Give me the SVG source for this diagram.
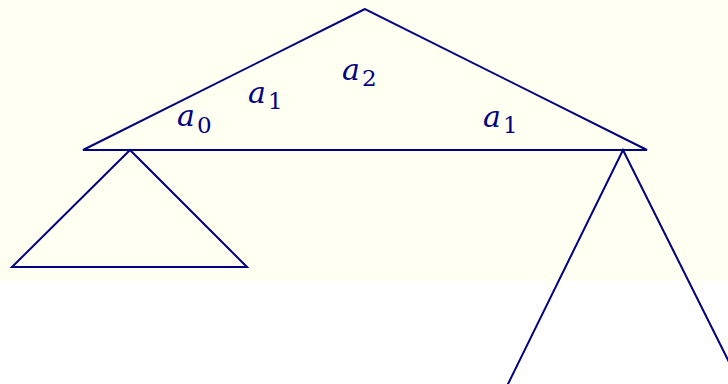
<svg xmlns="http://www.w3.org/2000/svg" width="728" height="384" viewBox="0 0 728 384">
<style>
.ln{fill:none;stroke:#000080;stroke-width:2;stroke-linejoin:miter}
</style>
<rect x="0" y="0" width="728" height="281" fill="#fffff2"/>
<g id="root">
<polygon class="ln" points="365,9 83,150 647,150"/>
</g>
<g id="left-subtree">
<polygon class="ln" points="130,150 12,267 247,267"/>
</g>
<g id="right-subtree">
<polyline class="ln" points="507,386 623,150 741,386"/>
</g>
<g id="labels" font-family="DejaVu Serif, serif" fill="#000080">
<text x="177" y="126"><tspan font-style="italic" font-size="30">a</tspan><tspan font-size="23" dx="2" dy="7">0</tspan></text>
<text x="248" y="103"><tspan font-style="italic" font-size="30">a</tspan><tspan font-size="23" dx="2" dy="6">1</tspan></text>
<text x="342" y="80"><tspan font-style="italic" font-size="30">a</tspan><tspan font-size="23" dx="2" dy="6">2</tspan></text>
<text x="483" y="127"><tspan font-style="italic" font-size="30">a</tspan><tspan font-size="23" dx="2" dy="6">1</tspan></text>
</g>
</svg>
